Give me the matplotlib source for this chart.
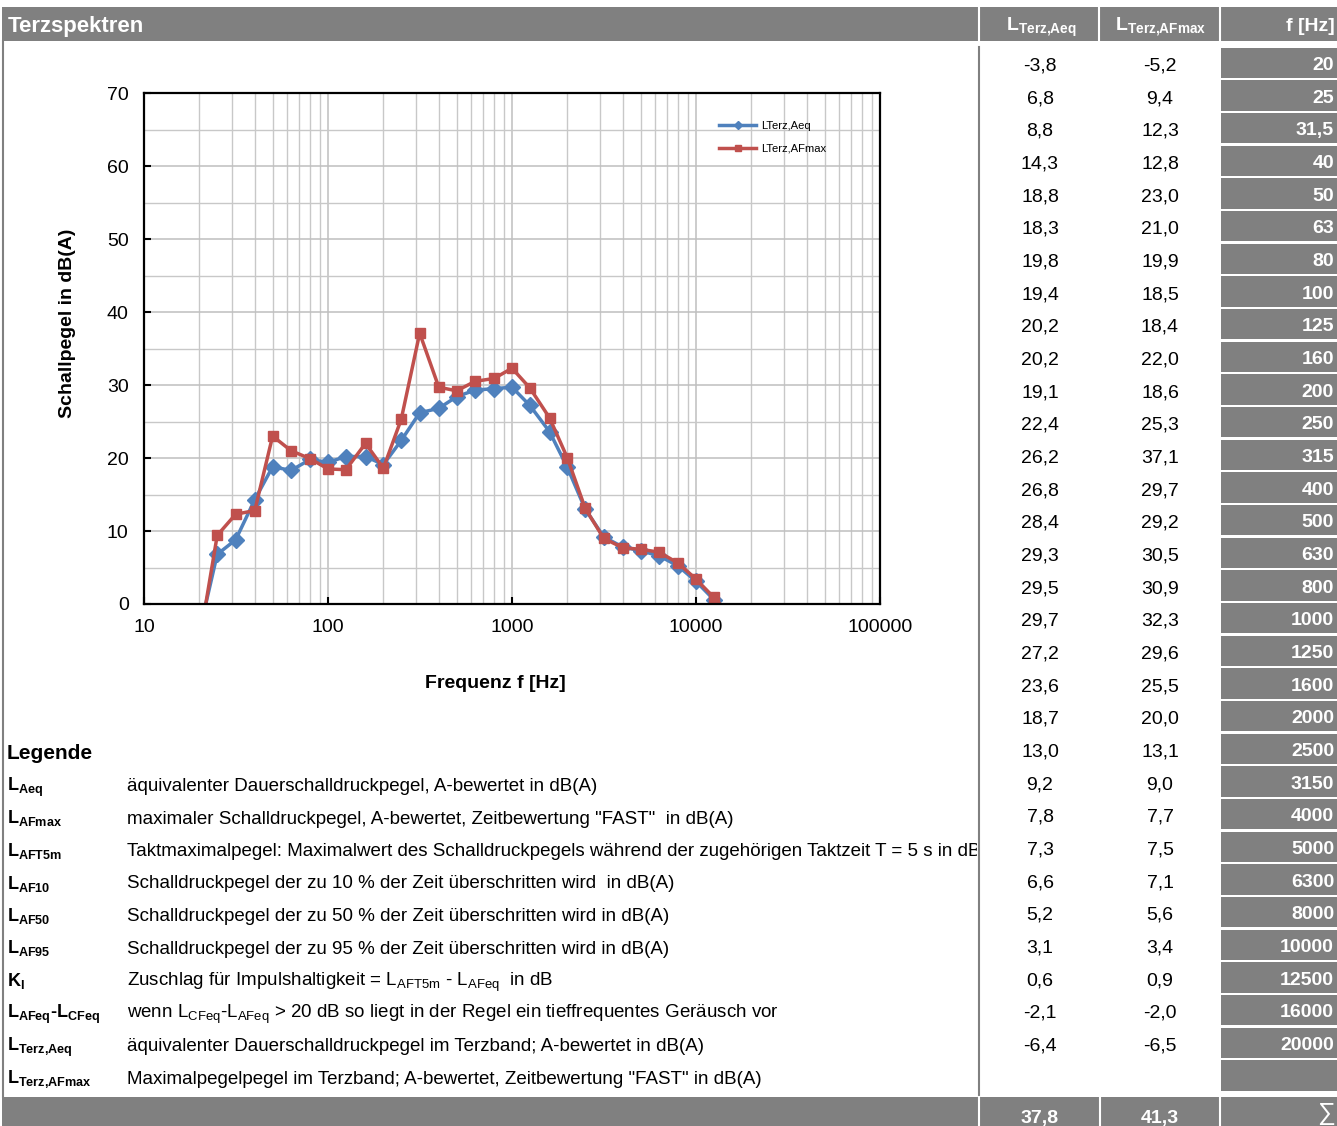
import matplotlib
matplotlib.use('Agg')
import matplotlib.pyplot as plt
from matplotlib.patches import Rectangle
from matplotlib.transforms import Bbox, TransformedBbox
from matplotlib.ticker import LogLocator, MultipleLocator, NullFormatter, FixedLocator, FixedFormatter

plt.rcParams['font.family'] = ['Liberation Sans', 'DejaVu Sans']
plt.rcParams['mathtext.fontset'] = 'custom'
plt.rcParams['mathtext.rm'] = 'Liberation Sans'
plt.rcParams['mathtext.bf'] = 'Liberation Sans:bold'
plt.rcParams['mathtext.it'] = 'Liberation Sans:italic'

# third-octave bands
freq_labels = ['20', '25', '31,5', '40', '50', '63', '80', '100', '125', '160', '200',
               '250', '315', '400', '500', '630', '800', '1000', '1250', '1600', '2000',
               '2500', '3150', '4000', '5000', '6300', '8000', '10000', '12500', '16000', '20000']
freqs = [20, 25, 31.5, 40, 50, 63, 80, 100, 125, 160, 200,
         250, 315, 400, 500, 630, 800, 1000, 1250, 1600, 2000,
         2500, 3150, 4000, 5000, 6300, 8000, 10000, 12500, 16000, 20000]
l_terz_aeq = [-3.8, 6.8, 8.8, 14.3, 18.8, 18.3, 19.8, 19.4, 20.2, 20.2, 19.1,
              22.4, 26.2, 26.8, 28.4, 29.3, 29.5, 29.7, 27.2, 23.6, 18.7,
              13.0, 9.2, 7.8, 7.3, 6.6, 5.2, 3.1, 0.6, -2.1, -6.4]
l_terz_afmax = [-5.2, 9.4, 12.3, 12.8, 23.0, 21.0, 19.9, 18.5, 18.4, 22.0, 18.6,
                25.3, 37.1, 29.7, 29.2, 30.5, 30.9, 32.3, 29.6, 25.5, 20.0,
                13.1, 9.0, 7.7, 7.5, 7.1, 5.6, 3.4, 0.9, -2.0, -6.5]
sum_aeq = 37.8
sum_afmax = 41.3

x_ticks = [10, 100, 1000, 10000, 100000]
x_tick_labels = ['10', '100', '1000', '10000', '100000']

legend_symbols = [
    r'L$_{\mathbf{Aeq}}$',
    r'L$_{\mathbf{AFmax}}$',
    r'L$_{\mathbf{AFT5m}}$',
    r'L$_{\mathbf{AF10}}$',
    r'L$_{\mathbf{AF50}}$',
    r'L$_{\mathbf{AF95}}$',
    r'K$_{\mathbf{I}}$',
    r'L$_{\mathbf{AFeq}}$-L$_{\mathbf{CFeq}}$',
    r'L$_{\mathbf{Terz{,}Aeq}}$',
    r'L$_{\mathbf{Terz{,}AFmax}}$',
]
legend_texts = [
    'äquivalenter Dauerschalldruckpegel, A-bewertet in dB(A)',
    'maximaler Schalldruckpegel, A-bewertet, Zeitbewertung "FAST"  in dB(A)',
    'Taktmaximalpegel: Maximalwert des Schalldruckpegels während der zugehörigen Taktzeit T = 5 s in dB(A)',
    'Schalldruckpegel der zu 10 % der Zeit überschritten wird  in dB(A)',
    'Schalldruckpegel der zu 50 % der Zeit überschritten wird in dB(A)',
    'Schalldruckpegel der zu 95 % der Zeit überschritten wird in dB(A)',
    r'Zuschlag für Impulshaltigkeit = L$_{\mathrm{AFT5m}}$ - L$_{\mathrm{AFeq}}$  in dB',
    r'wenn L$_{\mathrm{CFeq}}$-L$_{\mathrm{AFeq}}$ > 20 dB so liegt in der Regel ein tieffrequentes Geräusch vor',
    'äquivalenter Dauerschalldruckpegel im Terzband; A-bewertet in dB(A)',
    'Maximalpegelpegel im Terzband; A-bewertet, Zeitbewertung "FAST" in dB(A)',
]


def fmt(v):
    return f'{v:.1f}'.replace('.', ',')


W, H = 1337, 1126
GRAY = '#808080'
BLUE = '#4F81BD'
RED = '#C0504D'

fig = plt.figure(figsize=(W / 100, H / 100), dpi=100)

# page layout drawn in pixel coordinates
bg = fig.add_axes([0, 0, 1, 1])
bg.set_xlim(0, W)
bg.set_ylim(H, 0)
bg.axis('off')

# header band
bg.add_patch(Rectangle((2, 7), W - 2, 34, color=GRAY, lw=0))
for xs in (979, 1099, 1220):
    bg.plot([xs, xs], [7, 41], color='white', lw=1.5)
bg.text(8, 32, 'Terzspektren', color='white', fontsize=16, fontweight='bold', va='baseline')
bg.text(1041, 31, r'L$_{\mathbf{Terz{,}Aeq}}$', color='white', fontsize=14, fontweight='bold',
        ha='center', va='baseline')
bg.text(1161, 31, r'L$_{\mathbf{Terz{,}AFmax}}$', color='white', fontsize=14, fontweight='bold',
        ha='center', va='baseline')
bg.text(1335, 31, 'f [Hz]', color='white', fontsize=14, fontweight='bold', ha='right', va='baseline')

# frame lines
bg.plot([3, 3], [41, 1097], color=GRAY, lw=1.5)
bg.plot([979, 979], [47, 1097], color=GRAY, lw=1.5)

# table rows
ROW0, PITCH = 63, 32.67
for i, lab in enumerate(freq_labels):
    yc = ROW0 + i * PITCH
    bg.add_patch(Rectangle((1221, yc - 15.5), W - 1221, 30.5, color=GRAY, lw=0))
    bg.text(1334, yc + 7, lab, color='white', fontsize=14, fontweight='bold', ha='right', va='baseline')
    bg.text(1040, yc + 7.5, fmt(l_terz_aeq[i]), fontsize=14, ha='center', va='baseline')
    bg.text(1160, yc + 7.5, fmt(l_terz_afmax[i]), fontsize=14, ha='center', va='baseline')
yc = ROW0 + len(freq_labels) * PITCH
bg.add_patch(Rectangle((1221, yc - 15.5), W - 1221, 30.5, color=GRAY, lw=0))

# bottom band with totals
bg.add_patch(Rectangle((2, 1097), W - 2, 29, color=GRAY, lw=0))
for xs in (979, 1100, 1220):
    bg.plot([xs, xs], [1097, H], color='white', lw=1.5)
bg.text(1040, 1123, fmt(sum_aeq), color='white', fontsize=14, fontweight='bold', ha='center', va='baseline')
bg.text(1160, 1123, fmt(sum_afmax), color='white', fontsize=14, fontweight='bold', ha='center', va='baseline')
bg.text(1335, 1120, '∑', color='white', fontsize=18, ha='right', va='baseline')

# legend block
bg.text(7, 759, 'Legende', fontsize=15, fontweight='bold', va='baseline')
clip = TransformedBbox(Bbox([[0, 0], [977 / W, 1]]), fig.transFigure)
for i, (sym, txt) in enumerate(zip(legend_symbols, legend_texts)):
    yb = 791 + i * 32.5
    bg.text(7, yb, sym, fontsize=13, fontweight='bold', va='baseline')
    t = bg.text(127, yb, txt, fontsize=13.5, va='baseline')
    t.set_clip_box(clip)
    t.set_clip_on(True)

# spectrum chart
ax = fig.add_axes([144 / W, 1 - 604 / H, 736 / W, 511 / H])
ax.plot(freqs, l_terz_aeq, color=BLUE, lw=2.5, marker='D', ms=8, label='LTerz,Aeq')
ax.plot(freqs, l_terz_afmax, color=RED, lw=2.5, marker='s', ms=7.5, label='LTerz,AFmax')
ax.set_xscale('log')
ax.set_xlim(10, 100000)
ax.set_ylim(0, 70)
ax.xaxis.set_major_locator(FixedLocator(x_ticks))
ax.xaxis.set_major_formatter(FixedFormatter(x_tick_labels))
ax.xaxis.set_minor_locator(LogLocator(base=10, subs=range(2, 10)))
ax.xaxis.set_minor_formatter(NullFormatter())
ax.yaxis.set_major_locator(MultipleLocator(10))
ax.yaxis.set_minor_locator(MultipleLocator(5))
ax.grid(which='major', color='#BFBFBF', lw=1.1)
ax.grid(which='minor', color='#C8C8C8', lw=1.0)
ax.set_axisbelow(True)
ax.tick_params(which='major', direction='in', length=5, width=1.5, labelsize=14, pad=11)
ax.tick_params(which='minor', length=0)
for sp in ax.spines.values():
    sp.set_linewidth(1.6)
    sp.set_color('black')

ax.legend(loc='upper left', bbox_to_anchor=((719 - 144) / 736, (604 - 121) / 511),
          frameon=False, fontsize=8.1, handlelength=3.3, handletextpad=0.4,
          labelspacing=1.12, markerscale=0.5, borderaxespad=0, borderpad=0)

fig.text(67 / W, 1 - 323 / H, 'Schallpegel in dB(A)', rotation=90, fontsize=14,
         fontweight='bold', ha='center', va='center')
fig.text(495 / W, 1 - 683 / H, 'Frequenz f [Hz]', fontsize=14, fontweight='bold',
         ha='center', va='center')

fig.savefig('out.png', dpi=100)
